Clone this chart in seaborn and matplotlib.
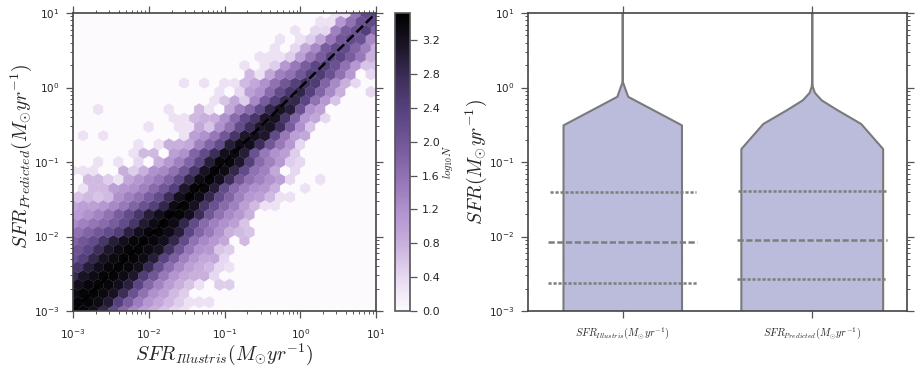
import numpy as np
import seaborn as sns
import matplotlib
matplotlib.use("Agg")
import matplotlib.pyplot as plt
from matplotlib.ticker import LogLocator, NullFormatter, FormatStrFormatter

# log10(N) per hexagon, bottom row first.
# short rows: the remaining cells on the right are empty.
log_n_rows = [
    [3.45, 3.4, 3.25, 2.85, 2.2, 1.7, 1.3, 1.0, .8, .6, .4, .3],
    [3.45, 3.45, 3.3, 3.05, 2.4, 1.9, 1.45, 1.1, .9, .7, .5, .3, .3, .3],
    [3.3, 3.45, 3.45, 3.35, 3.2, 2.75, 2.1, 1.6, 1.2, 1.0, .7, .5],
    [3.25, 3.4, 3.45, 3.4, 3.25, 2.95, 2.3, 1.75, 1.35, 1.05, .8, .6, .3, 0, .5, .5],
    [2.8, 3.15, 3.3, 3.45, 3.45, 3.3, 3.1, 2.45, 2.0, 1.5, 1.15, .9, .8, .8, .4],
    [2.6, 3.0, 3.25, 3.4, 3.45, 3.4, 3.25, 2.8, 2.15, 1.65, 1.3, 1.0, .85, .7, .4, .3],
    [2.1, 2.4, 2.85, 3.2, 3.35, 3.45, 3.45, 3.3, 3.0, 2.35, 1.85, 1.4, 1.1, .9, .9, .4],
    [2.05, 2.3, 2.75, 3.1, 3.3, 3.45, 3.45, 3.35, 3.2, 2.7, 2.05, 1.55, 1.2, 1.1, .6, .5],
    [1.8, 2.0, 2.2, 2.6, 3.0, 3.25, 3.4, 3.45, 3.4, 3.25, 2.85, 2.2, 1.6, 1.3, 1.1, .9, 0, .7],
    [1.6, 1.8, 2.0, 2.2, 2.45, 2.95, 3.25, 3.4, 3.45, 3.3, 3.0, 2.3, 1.8, 1.5, 1.2, .8, .7, .6],
    [1.25, 1.4, 1.55, 1.7, 1.9, 2.2, 2.6, 3.05, 3.3, 3.45, 3.3, 2.85, 2.2, 1.7, 1.4, 1.2, 1.0, .6],
    [1.05, 1.2, 1.35, 1.6, 1.9, 2.2, 2.6, 3.0, 3.25, 3.45, 3.45, 3.25, 2.75, 2.0, 1.6, 1.3, 1.1, .8],
    [.9, 1.0, 1.0, 1.1, 1.3, 1.5, 1.8, 2.1, 2.4, 2.85, 3.3, 3.45, 3.2, 2.6, 2.1, 1.7, 1.4, 1.0, .7, .3, .3],
    [.6, .7, .6, .7, 1.2, 1.4, 1.6, 1.9, 2.2, 2.75, 3.25, 3.45, 3.3, 2.85, 2.2, 1.8, 1.4, 1.1, 1.0, .7, .3, .3],
    [0, .3, .7, .7, 1.0, 1.1, 1.2, 1.4, 1.7, 2.0, 2.4, 3.1, 3.45, 3.4, 3.0, 2.2, 1.7, 1.4, 1.2, 1.1, .8, 0, 0, .3],
    [0, .7, .7, .5, .3, .9, 1.1, 1.3, 1.5, 1.8, 2.2, 2.85, 3.3, 3.45, 3.25, 2.75, 2.0, 1.6, 1.4, 1.2, 1.0, .4, 0, 0, .3],
    [.3, .3, .3, 0, 0, .8, .5, .8, 1.2, 1.3, 1.6, 2.0, 2.6, 3.2, 3.45, 3.3, 2.85, 2.2, 1.6, 1.4, .9, 0, .4],
    [0, 0, .3, 0, .3, 0, .4, 0, .8, 1.1, 1.4, 1.8, 2.3, 3.0, 3.4, 3.4, 3.1, 2.4, 1.7, 1.4, 1.1, .5, .4],
    [0, 0, 0, 0, 0, 0, .3, .7, .7, 0, 1.0, 1.2, 1.8, 2.2, 2.75, 3.25, 3.35, 3.0, 2.1, 1.5, 1.2, 1.0, .5],
    [0, 0, 0, 0, 0, 0, .3, 0, .3, .8, .8, .9, 1.4, 1.8, 2.2, 3.0, 3.3, 3.25, 2.75, 2.0, 1.5, 1.1, .4],
    [0, .3, 0, .3, 0, 0, 0, 0, 0, 0, 0, .3, 1.0, 1.2, 1.5, 2.0, 2.6, 3.1, 3.25, 3.1, 2.2, 1.5, 1.0, .9],
    [0, 0, 0, 0, 0, 0, 0, .3, 0, 0, .3, .3, .9, .6, 1.2, 1.6, 2.2, 2.75, 3.1, 3.2, 2.75, 1.9, 1.2, .6],
    [0, 0, 0, 0, 0, 0, 0, 0, 0, 0, .3, .3, .7, .8, .8, 1.2, 1.7, 2.2, 2.6, 3.1, 3.2, 2.6, 1.8, 1.1, .9, .4],
    [0, 0, .3, 0, 0, 0, 0, 0, 0, .3, 0, 0, .7, .3, 0, .9, 1.4, 1.7, 2.2, 2.85, 3.2, 3.0, 2.1, 1.2, 1.0],
    [0, 0, 0, 0, 0, 0, 0, 0, 0, 0, 0, 0, 0, 0, .3, .6, .9, .5, 1.3, 1.9, 2.4, 2.85, 2.85, 2.3, 1.6, 1.1, .6],
    [0, 0, 0, 0, 0, 0, 0, 0, 0, 0, 0, 0, 0, 0, .3, 0, .4, 1.0, 1.2, 1.7, 2.2, 2.6, 2.9, 2.4, 1.8, 1.3, .8, 0, 0, .4],
    [0, 0, 0, 0, 0, 0, 0, 0, 0, 0, 0, .3, 0, .3, 0, .3, .3, .7, .9, 1.2, 1.6, 2.0, 2.4, 2.7, 2.5, 1.8, 1.3, .8, .4],
    [0, 0, 0, 0, 0, 0, 0, 0, 0, 0, 0, 0, 0, 0, 0, 0, 0, .7, .3, .9, 1.4, 1.6, 2.0, 2.4, 2.5, 2.1, 1.6, 1.1, 0, .4],
    [0, 0, 0, 0, 0, 0, 0, 0, 0, 0, 0, 0, 0, 0, 0, 0, 0, .3, 0, .3, .5, 1.1, 1.5, 1.9, 2.3, 2.4, 2.1, 1.6, 1.1, .6, .6],
    [0, 0, 0, 0, 0, 0, 0, 0, 0, 0, 0, 0, 0, 0, 0, 0, 0, 0, .3, .3, .3, .5, 1.0, 1.5, 1.9, 2.3, 2.3, 1.9, 1.5, .8],
    [0, 0, 0, 0, 0, 0, 0, 0, 0, 0, 0, 0, 0, 0, 0, 0, 0, 0, 0, 0, .3, 0, .4, .9, 1.3, 1.9, 2.2, 2.2, 1.8, 1.4, .8],
    [0, 0, 0, 0, 0, 0, 0, 0, 0, 0, 0, 0, 0, 0, 0, 0, 0, 0, 0, 0, .3, 0, .3, .5, .9, 1.5, 2.0, 2.2, 2.1, 1.3],
    [0, 0, 0, 0, 0, 0, 0, 0, 0, 0, 0, 0, 0, 0, 0, 0, 0, 0, 0, 0, 0, 0, .3, 0, .4, .4, 1.4, 1.9, 2.1, 2.4, 1.8],
    [0, 0, 0, 0, 0, 0, 0, 0, 0, 0, 0, 0, 0, 0, 0, 0, 0, 0, 0, 0, 0, 0, 0, 0, .3, .3, 1.1, 1.6, 2.1, 2.2],
    [0, 0, 0, 0, 0, 0, 0, 0, 0, 0, 0, 0, 0, 0, 0, 0, 0, 0, 0, 0, 0, 0, 0, 0, 0, 0, .3, .3, 1.5, 2.2, 2.3],
]

colorbar_ticks = [0.0, 0.4, 0.8, 1.2, 1.6, 2.0, 2.4, 2.8, 3.2]
one_to_one = [1e-3, 9]

# small samples: quartiles as read, last value sits far above the axis
sfr_illustris = [0.0011, 0.0016, 0.00234, 0.0047, 0.0085, 0.017, 0.0398, 0.11, 43.3]
sfr_predicted = [0.0012, 0.0018, 0.00265, 0.0050, 0.00893, 0.018, 0.0413, 0.11, 16.9]

label_illustris = r"$SFR_{Illustris}(M_{\odot}yr^{-1})$"
label_predicted = r"$SFR_{Predicted}(M_{\odot}yr^{-1})$"

sns.set_style("ticks")
plt.rcParams["mathtext.fontset"] = "cm"
plt.rcParams["axes.edgecolor"] = "#444444"
plt.rcParams["axes.linewidth"] = 1.2

hex_cmap = sns.blend_palette(
    ["#fdfafe", "#e6d9f0", "#c9b0dd", "#b193cf", "#9373b4",
     "#75599a", "#584480", "#3e2f5c", "#1c1528", "#000000"],
    as_cmap=True,
)


def hex_centres(nx=30, ny=17):
    # lattice positions of matplotlib's hexbin on the -3..1 decades
    xs, ys, vals = [], [], []
    for r, row in enumerate(log_n_rows):
        for i in range(nx + 1 - r % 2):
            xs.append(10 ** (-3 + (i + 0.5 * (r % 2)) * 4 / nx))
            ys.append(10 ** (-3 + 0.5 * r * 4 / ny))
            vals.append(row[i] if i < len(row) else 0.0)
    return xs, ys, vals


def style_log_axis(ax, axis="both"):
    locator_axes = [ax.yaxis] if axis == "y" else [ax.xaxis, ax.yaxis]
    for a in locator_axes:
        a.set_major_locator(LogLocator(base=10, numticks=10))
        a.set_minor_locator(LogLocator(base=10, subs=range(2, 10), numticks=10))
        a.set_minor_formatter(NullFormatter())
    ax.tick_params(which="both", direction="out", top=True, right=True, color="#555555",
                   labelsize=7.5, labelcolor="#262626", pad=5)
    ax.tick_params(which="major", length=5, width=0.9)
    ax.tick_params(which="minor", length=2.5, width=0.7)


fig = plt.figure(figsize=(9.15, 3.73), dpi=100)
W, H = 915.0, 373.0
ax_hex = fig.add_axes([73 / W, (H - 311) / H, 303 / W, 298 / H])
cax = fig.add_axes([395 / W, (H - 311) / H, 15 / W, 298 / H])
ax_vio = fig.add_axes([528 / W, (H - 311) / H, 379 / W, 298 / H])

xs, ys, vals = hex_centres()
hb = ax_hex.hexbin(xs, ys, C=vals, gridsize=30, xscale="log", yscale="log",
                   extent=(-3, 1, -3, 1), cmap=hex_cmap, vmin=0, vmax=3.52,
                   reduce_C_function=np.mean, linewidths=0.2, edgecolors="face")
ax_hex.plot(one_to_one, one_to_one, color="k", ls="--", lw=1.8)
ax_hex.set_xlim(1e-3, 10)
ax_hex.set_ylim(1e-3, 10)
style_log_axis(ax_hex)
ax_hex.tick_params(axis="x", pad=7)
ax_hex.set_xlabel(label_illustris, fontsize=14.3, labelpad=0)
ax_hex.set_ylabel(label_predicted, fontsize=14.3, labelpad=0, y=0.52)

cb = fig.colorbar(hb, cax=cax, ticks=colorbar_ticks)
cb.ax.tick_params(labelsize=8, length=5, width=0.9, color="#555555", labelcolor="#262626", direction="out")
cb.ax.yaxis.set_major_formatter(FormatStrFormatter("%.1f"))
cb.ax.minorticks_off()
cb.set_label(r"$log_{10}N$", fontsize=8, rotation=90, labelpad=1)
cb.outline.set_edgecolor("#555555")
cb.outline.set_linewidth(1.2)

violin_kws = dict(native_scale=True, inner="quart", density_norm="width",
                  color="#bbbbdb", saturation=1, linecolor="#7a7a7a", linewidth=1.5,
                  inner_kws=dict(color="#7d7d7d", linewidth=1.8), gridsize=100, ax=ax_vio)
sns.violinplot(x=[0] * len(sfr_illustris), y=sfr_illustris, width=0.86, bw_method=0.021, cut=0.432, **violin_kws)
sns.violinplot(x=[1] * len(sfr_predicted), y=sfr_predicted, width=0.8, bw_method=0.056, cut=0.64, **violin_kws)
ax_vio.set_yscale("log")
ax_vio.set_ylim(1e-3, 10)
ax_vio.set_xlim(-0.5, 1.5)
style_log_axis(ax_vio, "y")
ax_vio.set_xticks([0, 1])
ax_vio.set_xticklabels([label_illustris, label_predicted], fontsize=7.5)
ax_vio.tick_params(axis="x", which="major", top=True, length=5, pad=5)
ax_vio.set_xlabel("")
ax_vio.set_ylabel(r"$SFR(M_{\odot}yr^{-1})$", fontsize=14.3, labelpad=0)

fig.savefig("out.png", dpi=100, facecolor="white")
